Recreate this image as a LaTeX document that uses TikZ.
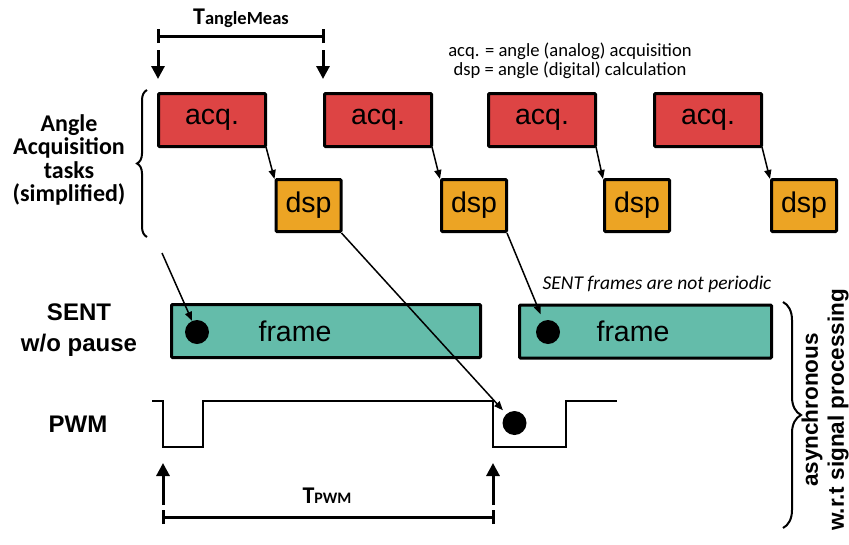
\documentclass[tikz,border=0pt]{standalone}
\usepackage{fontspec}
\setmainfont{Liberation Sans}
\newfontfamily\calfont{Carlito}
\usetikzlibrary{arrows.meta,decorations.pathreplacing}
\definecolor{acqred}{RGB}{221,68,68}
\definecolor{dsporange}{RGB}{236,164,36}
\definecolor{frameteal}{RGB}{100,188,170}
\begin{document}
\begin{tikzpicture}[x=1pt,y=-1pt,
  acqbox/.style={draw,line width=3pt,fill=acqred,minimum width=107pt,minimum height=53pt,inner sep=0pt,rounded corners=1pt,font=\fontsize{28.5}{30}\selectfont},
  dspbox/.style={draw,line width=3pt,fill=dsporange,minimum width=65pt,minimum height=52pt,inner sep=0pt,rounded corners=1pt,font=\fontsize{28.5}{30}\selectfont},
  framebox/.style={draw,line width=3pt,fill=frameteal,minimum height=53pt,inner sep=0pt,rounded corners=1pt},
  frametext/.style={font=\fontsize{28.5}{30}\selectfont,inner sep=0pt},
  dot/.style={circle,fill=black,minimum size=24pt,inner sep=0pt},
  thinarrow/.style={line width=1.5pt,-{Triangle[length=9pt,width=7pt]}},
  bigarrow/.style={line width=3pt,-{Triangle[length=13pt,width=13pt]}},
  bar/.style={line width=3pt},
  sidelabel/.style={align=center,font=\bfseries\fontsize{24}{31}\selectfont},
  calib/.style={align=center,font=\calfont\bfseries\fontsize{24}{23.5}\selectfont},
  legend/.style={align=center,font=\calfont\fontsize{18.6}{18.5}\selectfont}
]
\useasboundingbox (0,0) rectangle (849,544);

% T_AngleMeas
\node[anchor=base, inner sep=0pt] (tang) at (241,24) {\calfont\bfseries\fontsize{24}{24}\selectfont T\fontsize{18.5}{18}\selectfont angleMeas};
\coordinate (ta1) at (158,36);
\coordinate (ta2) at (323,36);
\draw[bar] (ta1) -- (ta2);
\draw[bar] ([yshift=-7pt]ta1) -- ([yshift=7pt]ta1);
\draw[bar] ([yshift=-7pt]ta2) -- ([yshift=7pt]ta2);
\coordinate (da1s) at (158,50);
\coordinate (da1e) at (158,79);
\coordinate (da2s) at (323,50);
\coordinate (da2e) at (323,79);
\draw[bigarrow] (da1s) -- (da1e);
\draw[bigarrow] (da2s) -- (da2e);

% legend
\node[legend] (leg) at (570,61) {acq. = angle (analog) acquisition\\dsp = angle (digital) calculation};

% left label and brace
\node[calib] (angl) at (69,160) {Angle\\Acquisition\\tasks\\(simplified)};
\draw[line width=2pt,decorate,decoration={brace,amplitude=10pt}] (147,237) -- (147,90);

% acq boxes
\node[acqbox] (a1) at (212,120) {acq.};
\node[acqbox] (a2) at (378,120) {acq.};
\node[acqbox] (a3) at (542,120) {acq.};
\node[acqbox] (a4) at (708,120) {acq.};
% dsp boxes
\node[dspbox] (d1) at (308.5,205.5) {dsp};
\node[dspbox] (d2) at (474,205.5) {dsp};
\node[dspbox] (d3) at (637,205.5) {dsp};
\node[dspbox] (d4) at (804,205.5) {dsp};
\foreach \i in {1,2,3,4}{
  \draw[thinarrow] ([xshift=-1pt,yshift=1pt]a\i.south east) -- ([xshift=0pt,yshift=-1pt]d\i.north west);
}

% SENT
\node[sidelabel] (sent) at (79,330) {SENT\\w/o pause};
\node[framebox,minimum width=309pt] (f1) at (326,331) {};
\node[framebox,minimum width=252pt] (f2) at (645.5,331.5) {};
\node[frametext] (ft1) at (295,331) {frame};
\node[frametext] (ft2) at (633,331) {frame};
\node[dot] (dot1) at (197,332) {};
\node[dot] (dot2) at (548,332) {};
\node[font=\calfont\itshape\fontsize{19.5}{19}\selectfont] (np) at (657,284) {SENT frames are not periodic};

\coordinate (s1) at (162,253);
\draw[thinarrow] (s1) -- (dot1);
\draw[thinarrow,shorten >=7pt] ([xshift=-1pt]d2.south east) -- (dot2);

% PWM
\node[sidelabel] (pwm) at (78,424) {PWM};
\coordinate (p0) at (152,401);
\coordinate (p1) at (163,401);
\coordinate (p2) at (163,447);
\coordinate (p3) at (203,447);
\coordinate (p4) at (203,401);
\coordinate (p5) at (493,401);
\coordinate (p6) at (493,447);
\coordinate (p7) at (566,447);
\coordinate (p8) at (566,401);
\coordinate (p9) at (617,401);
\draw[line width=2.5pt] (p0) -- (p1) -- (p2) -- (p3) -- (p4) -- (p5) -- (p6) -- (p7) -- (p8) -- (p9);
\node[dot] (dot3) at (514.5,423) {};
\draw[thinarrow,shorten >=5pt] ([xshift=-1pt]d1.south east) -- (dot3);

% T_PWM
\coordinate (u1s) at (163,505);
\coordinate (u1e) at (163,463);
\coordinate (u2s) at (493,505);
\coordinate (u2e) at (493,463);
\draw[bigarrow] (u1s) -- (u1e);
\draw[bigarrow] (u2s) -- (u2e);
\coordinate (tp1) at (163,517);
\coordinate (tp2) at (493,517);
\draw[bar] (tp1) -- (tp2);
\draw[bar] ([yshift=-7pt]tp1) -- ([yshift=7pt]tp1);
\draw[bar] ([yshift=-7pt]tp2) -- ([yshift=7pt]tp2);
\node[anchor=base, inner sep=0pt] (tpwm) at (327,503) {\calfont\bfseries\fontsize{24}{24}\selectfont T\fontsize{16}{16}\selectfont PWM};

% right brace and text
\draw[line width=2pt,decorate,decoration={brace,amplitude=18pt}] (783,302) -- (783,528);
\node[rotate=90,align=center,inner sep=0pt,font=\bfseries\fontsize{22.5}{26}\selectfont] (async) at (825,410) {asynchronous\\w.r.t signal processing};
\end{tikzpicture}
\end{document}
